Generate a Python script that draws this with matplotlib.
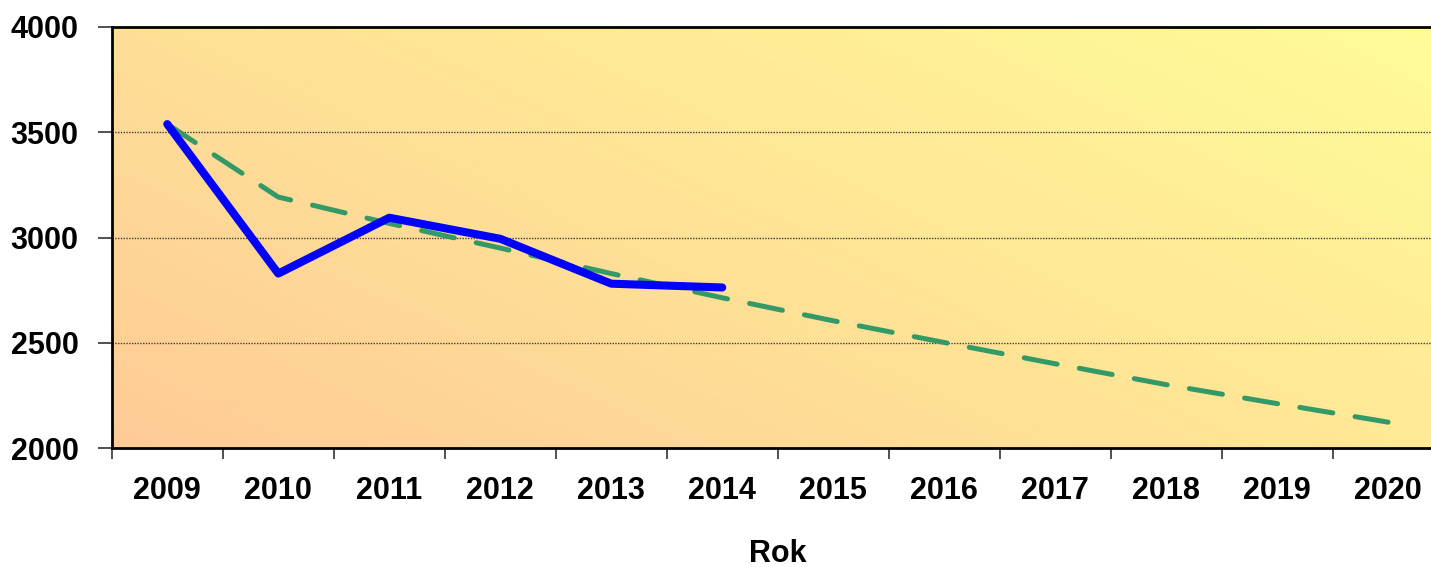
import numpy as np
import matplotlib
matplotlib.use("Agg")
import matplotlib.pyplot as plt
from matplotlib.colors import LinearSegmentedColormap

years = ["2009", "2010", "2011", "2012", "2013", "2014",
         "2015", "2016", "2017", "2018", "2019", "2020"]
actual = [3538, 2829, 3094, 2994, 2781, 2763]
forecast = [3538, 3192, 3067, 2950, 2829, 2714, 2605, 2502, 2401, 2302, 2212, 2124]
y_ticks = [2000, 2500, 3000, 3500, 4000]
x_label = "Rok"

plt.rcParams['font.family'] = ['Liberation Sans', 'DejaVu Sans']
plt.rcParams['font.weight'] = 'bold'

fig = plt.figure(figsize=(14.31, 5.67), dpi=100)
ax = fig.add_axes([0.0781, 0.2093, 0.9308, 0.7436])

# diagonal gradient background
n = 300
gx, gy = np.meshgrid(np.linspace(0, 1, n), np.linspace(0, 1, n))
t = (gx * 0.6 + gy * 0.4)
cmap = LinearSegmentedColormap.from_list("bg", ["#FECB96", "#FFE496", "#FFFC98"])
ax.imshow(t, cmap=cmap, extent=[0, 1, 0, 1], transform=ax.transAxes,
          origin='lower', aspect='auto', zorder=0, interpolation='bilinear')

xs = np.arange(len(years))
ax.plot(xs[:len(actual)], actual, color="#0000FF", lw=5.8,
        solid_capstyle='round', solid_joinstyle='round', zorder=4)
ax.plot(xs, forecast, color="#339966", lw=3.6, linestyle=(0, (6.7, 4.5)),
        dash_capstyle='round', dash_joinstyle='round', zorder=3)

ax.set_xlim(-0.5, len(years) - 0.5)
ax.set_ylim(y_ticks[0], y_ticks[-1])

# tick marks at category boundaries, labels at centres
ax.set_xticks(np.arange(-0.5, len(years) + 0.5, 1.0))
ax.set_xticklabels([])
ax.set_xticks(xs, minor=True)
ax.set_xticklabels(years, minor=True, fontsize=22, fontweight='bold')
ax.tick_params(axis='x', which='major', direction='out', length=8, width=1.2,
               color='#333333')
ax.tick_params(axis='x', which='minor', length=0, pad=20)

ax.set_yticks(y_ticks)
ax.set_yticklabels([str(v) for v in y_ticks], fontsize=22, fontweight='bold')
ax.tick_params(axis='y', direction='out', length=10, width=1.2, color='#333333',
               pad=14)

for v in y_ticks[1:-1]:
    ax.axhline(v, color='#404040', lw=1.0, linestyle=(0, (1, 1)), zorder=2)

for s in ['left', 'bottom', 'top']:
    ax.spines[s].set_linewidth(2.0)
    ax.spines[s].set_color('black')
    ax.spines[s].set_zorder(5)
ax.spines['right'].set_visible(False)

ax.set_xlabel(x_label, fontsize=22, fontweight='bold', labelpad=24)

fig.savefig("out.png", dpi=100)
